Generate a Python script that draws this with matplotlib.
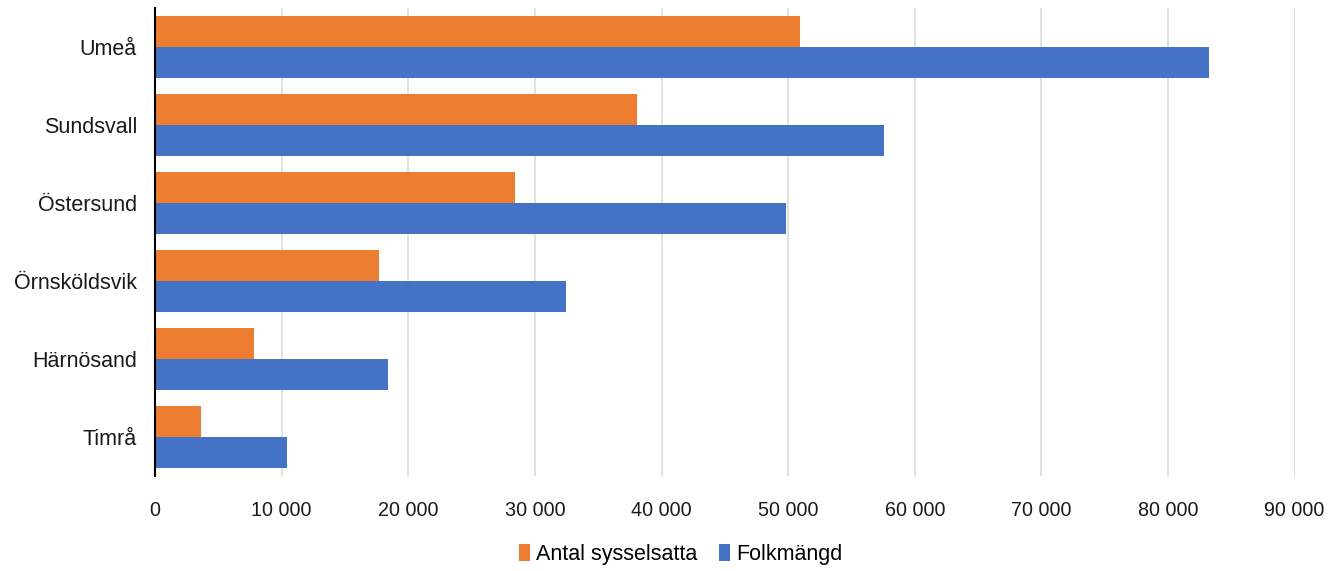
import matplotlib
matplotlib.use("Agg")
import matplotlib.pyplot as plt
from matplotlib.ticker import FuncFormatter, MultipleLocator
import numpy as np

plt.rcParams['font.family'] = ['Liberation Sans', 'DejaVu Sans']

categories = ["Umeå", "Sundsvall", "Östersund", "Örnsköldsvik", "Härnösand", "Timrå"]
sysselsatta = [50900, 38100, 28400, 17700, 7800, 3600]
folkmangd = [83250, 57600, 49800, 32450, 18400, 10450]
series_names = ["Antal sysselsatta", "Folkmängd"]

orange = "#ED7D31"
blue = "#4472C4"

fig = plt.figure(figsize=(13.35, 5.71), dpi=100)
ax = fig.add_axes([0.1161, 0.1664, 0.9698 - 0.1161, 0.986 - 0.1664])

y = np.arange(len(categories))
h = 0.4
ax.barh(y - h / 2, sysselsatta, height=h, color=orange, label=series_names[0], zorder=3)
ax.barh(y + h / 2, folkmangd, height=h, color=blue, label=series_names[1], zorder=3)

ax.set_ylim(len(categories) - 0.5, -0.5)
ax.set_xlim(0, 90000)
ax.xaxis.set_major_locator(MultipleLocator(10000))
ax.xaxis.set_major_formatter(FuncFormatter(lambda v, p: f"{int(v):,}".replace(",", " ")))
ax.set_yticks(y)
ax.set_yticklabels(categories)

ax.grid(axis='x', color='#d9d9d9', linewidth=1.1, zorder=0)
for s in ['top', 'right', 'bottom']:
    ax.spines[s].set_visible(False)
ax.spines['left'].set_color('black')
ax.spines['left'].set_linewidth(1.5)
ax.spines['left'].set_zorder(4)
ax.tick_params(axis='both', length=0, colors='#1a1a1a')
ax.tick_params(axis='x', pad=18, labelsize=14.2)
ax.tick_params(axis='y', pad=13, labelsize=15.5)

leg = fig.legend(loc='center', bbox_to_anchor=(0.51, 0.029), ncol=2, frameon=False,
                 fontsize=15.5, handlelength=0.5, handleheight=0.85, handletextpad=0.3,
                 columnspacing=1.0)

fig.savefig("out.png", dpi=100)
